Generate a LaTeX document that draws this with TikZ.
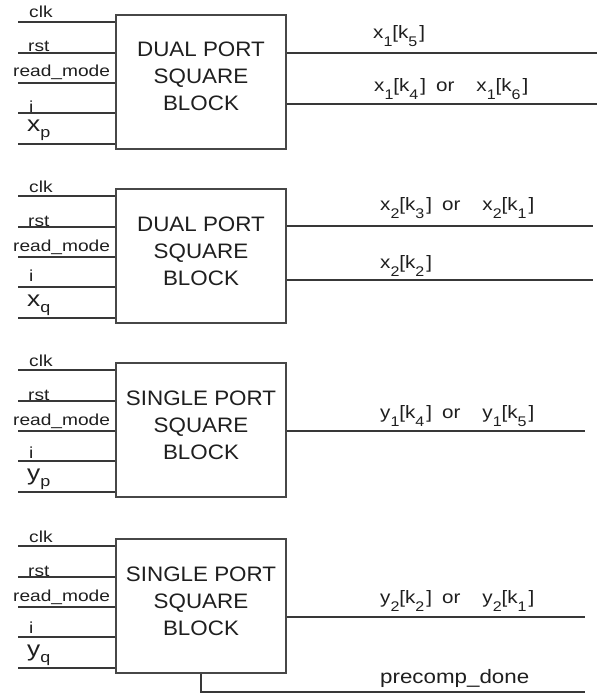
\documentclass[tikz,border=0pt]{standalone}
\usepackage{fontspec}
\setmainfont{Liberation Sans}
\newfontfamily\blockfam[FakeStretch=1.07]{Liberation Sans}
\newfontfamily\pinfam[FakeStretch=1.2]{Liberation Sans}
\newfontfamily\sigfam[FakeStretch=1.15]{Liberation Sans}
% lowered subscript used in the signal names
\newcommand{\lowsub}[1]{\raisebox{-8bp}{\fontsize{14}{14}\selectfont #1}}
% x_1[k_5] style signal
\newcommand{\sig}[3]{#1\lowsub{#2}[k\lowsub{#3}\hspace{2bp}]}
% x_p style input name
\newcommand{\pinvar}[2]{{\fontsize{22}{22}\selectfont #1}\raisebox{-6bp}{\fontsize{15}{15}\selectfont #2}}
\begin{document}
\begin{tikzpicture}[x=1bp,y=-1bp,
  wire/.style={line width=1.1bp, draw=black!78},
  blockbox/.style={draw=black!72, line width=1.1bp, minimum width=170bp,
    minimum height=134bp, inner sep=0pt},
  blocktext/.style={inner sep=0pt, anchor=base, text=black!88,
    font=\blockfam\fontsize{21}{21}\selectfont},
  pinlabel/.style={inner sep=0pt, anchor=base west, text=black!88,
    font=\pinfam\fontsize{16}{16}\selectfont},
  siglabel/.style={inner sep=0pt, anchor=base west, text=black!88,
    font=\sigfam\fontsize{18}{18}\selectfont}]
\useasboundingbox[fill=white] (0,0) rectangle (597,696);

% four square blocks with their five inputs each
\foreach \b/\t/\tl/\v/\s/\di in {1/15/DUAL PORT/x/p/0, 2/189/DUAL PORT/x/q/6,
                                 3/363/SINGLE PORT/y/p/3, 4/539/SINGLE PORT/y/q/4} {
  \node[blockbox] (B\b) at (201,\t+67) {};
  \node[blocktext] (T\b a) at (201,\t+42) {\tl};
  \node[blocktext] (T\b b) at (201,\t+69) {SQUARE};
  \node[blocktext] (T\b c) at (201,\t+96) {BLOCK};
  \foreach \k/\off in {1/7, 2/38, 3/68, 4/98, 5/129} {
    \coordinate (P\b-\k) at (18,\t+\off);
    \draw[wire] (P\b-\k) -- (P\b-\k -| B\b.west);
  }
  \foreach \k/\off/\lab/\dy/\lx in {1/7/clk/4/29, 2/38/rst/1/28,
                                    3/68/read\_mode/6/13} {
    \node[pinlabel] (L\b-\k) at (\lx,\t+\off-\dy) {\lab};
  }
  \node[pinlabel] (L\b-4) at (29,\t+98-\di) {i};
  \node[pinlabel, text height=11bp] (L\b-5) at (27,\t+117) {\pinvar{\v}{\s}};
}

% outputs of block 1
\coordinate (O1a) at (597,53);
\coordinate (O1b) at (597,104);
\draw[wire] (B1.east |- O1a) -- (O1a);
\draw[wire] (B1.east |- O1b) -- (O1b);
\node[siglabel] (S1a) at (373,39) {\sig{x}{1}{5}};
\node[siglabel] (S1b) at (374,92) {\sig{x}{1}{4}\hspace{10bp}or\hspace{22bp}\sig{x}{1}{6}};

% outputs of block 2
\coordinate (O2a) at (593,226);
\coordinate (O2b) at (593,280);
\draw[wire] (B2.east |- O2a) -- (O2a);
\draw[wire] (B2.east |- O2b) -- (O2b);
\node[siglabel] (S2a) at (380,210) {\sig{x}{2}{3}\hspace{10bp}or\hspace{22bp}\sig{x}{2}{1}};
\node[siglabel] (S2b) at (380,268) {\sig{x}{2}{2}};

% output of block 3
\coordinate (O3a) at (585,431);
\draw[wire] (B3.east |- O3a) -- (O3a);
\node[siglabel] (S3a) at (380,418) {\sig{y}{1}{4}\hspace{10bp}or\hspace{22bp}\sig{y}{1}{5}};

% outputs of block 4
\coordinate (O4a) at (585,617);
\coordinate (O4b) at (585,692);
\draw[wire] (B4.east |- O4a) -- (O4a);
\draw[wire] (B4.south) |- (O4b);
\node[siglabel] (S4a) at (380,603) {\sig{y}{2}{2}\hspace{10bp}or\hspace{22bp}\sig{y}{2}{1}};
\node[siglabel, font=\sigfam\fontsize{19.5}{19.5}\selectfont] (S4b) at (380,683) {precomp\_done};
\end{tikzpicture}
\end{document}
